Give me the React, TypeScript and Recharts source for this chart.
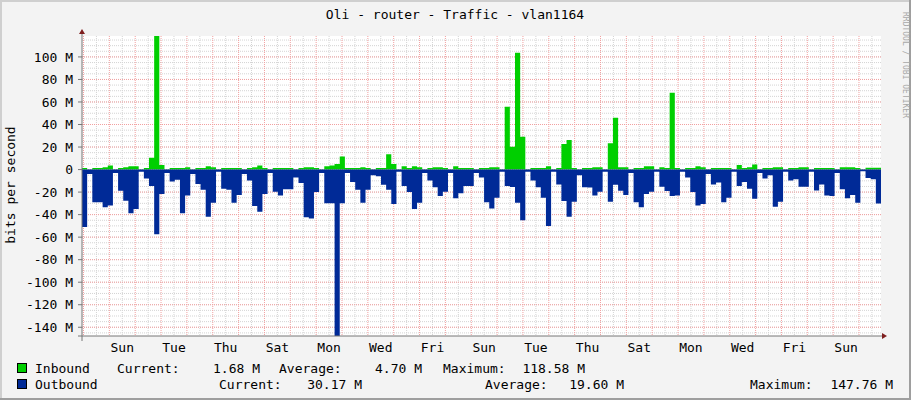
import { ComposedChart, Area, XAxis, YAxis, CartesianGrid, ReferenceDot } from 'recharts';

// traffic per ~4.8h slot, in Mbit/s
const inbound = [
  1.5, 0.3, 1.5, 1.5, 2, 3.5, 0.3, 1.5, 2, 3, 3, 0.3, 1.5, 10.6, 118.58, 4, 0.3, 1.5, 1.5, 1.5,
  2, 0.3, 1.5, 1.5, 3, 2, 0.3, 1.5, 1.5, 1.5, 1.5, 0.3, 1.5, 2, 3.5, 1.5, 0.3, 1.5, 1.5, 1.5,
  1.5, 0.3, 1.5, 2, 2, 1.5, 0.3, 3, 3.5, 5, 11.5, 1.5, 1.5, 1.5, 2, 1.5, 0.3, 1.5, 1.5, 13.5,
  5, 0.3, 3, 1.5, 3, 2, 0.3, 1.5, 2, 2, 1.5, 0.3, 3, 1.5, 1.5, 1.5, 0.3, 1.5, 1.5, 2,
  2, 0.3, 55.8, 20.3, 103.8, 29.2, 0.3, 1.5, 1.5, 1.5, 3, 0.3, 1.5, 22.7, 26.3, 1.5, 0.3, 1.5, 1.5, 2,
  2, 0.3, 23.4, 46, 2, 2, 0.3, 1.5, 1.5, 3, 3, 0.3, 2, 1.5, 68.3, 1.5, 0.3, 1.5, 1.5, 3,
  2, 0.3, 1.5, 1.5, 1.5, 1.5, 0.3, 4, 1.5, 2, 4.5, 0.3, 1.5, 1.5, 2, 2, 0.3, 1.5, 1.5, 2,
  2, 0.3, 1.5, 1.5, 1.5, 1.5, 0.3, 2, 2, 2, 1.5, 0.3, 1.7, 1.7, 1.68,
];
const outbound = [
  51, 4, 29, 29, 33.5, 32, 3, 18.7, 27.6, 38.8, 35, 2, 8, 14.5, 57.5, 21.7, 3, 10.7, 9, 38.8,
  23, 4, 12.8, 18, 42, 29.5, 2, 17, 18, 29.5, 22.5, 4, 9.8, 32.4, 37.4, 21.7, 3, 19.6, 23, 17.5,
  17.5, 7, 12, 42.4, 43.5, 20, 3, 30, 30, 147.76, 30, 3, 11, 18, 29.5, 18, 5, 6, 13.5, 18,
  30.5, 2, 14.5, 20, 35, 29.5, 3, 9.6, 15.6, 23.5, 19.6, 3, 25.5, 21, 14.5, 14.5, 3, 7, 29, 34.5,
  25, 2, 14.5, 15.5, 29.5, 45, 2, 9.6, 15.6, 25, 50, 2, 13.2, 28, 42, 28.5, 5, 15.6, 16, 23,
  19.6, 2, 28.5, 13.5, 18.7, 22.5, 3, 29, 33.5, 21.7, 19.6, 2, 15.3, 19, 23.4, 23, 2, 7, 20, 32,
  30.5, 4, 13.2, 11.5, 29, 25, 2, 14.5, 11, 17, 26, 3, 8, 5, 33, 28.5, 2, 9.6, 8.5, 15.3,
  15.3, 2, 18.5, 13.2, 23, 23.4, 3, 17.5, 25.5, 22.5, 29.5, 1.5, 7.5, 8.5, 30.17,
];

const dayNames = ['Sat', 'Sun', 'Mon', 'Tue', 'Wed', 'Thu', 'Fri'];
const yTicks = [-140, -120, -100, -80, -60, -40, -20, 0, 20, 40, 60, 80, 100];
const legendIn = { current: '1.68 M', average: '4.70 M', maximum: '118.58 M' };
const legendOut = { current: '30.17 M', average: '19.60 M', maximum: '147.76 M' };

const SLOT_HOURS = 4.786;
const START = -1.4; // hours before first midnight
const END = START + inbound.length * SLOT_HOURS;
const Y_MAX = 118.58;
const Y_MIN = -147.76;
const DAYS = 31;

const IN_COLOR = '#00CF00';
const OUT_COLOR = '#002A97';
const MONO = 'DejaVu Sans Mono';

const rows = inbound.map((v, i) => ({ t: START + i * SLOT_HOURS, inb: v, outb: -outbound[i] }));
rows.push({ t: END, inb: inbound[inbound.length - 1], outb: -outbound[outbound.length - 1] });

const midnights: number[] = [];
const noons: number[] = [];
const labelNoons: number[] = [];
for (let k = 0; k < DAYS; k++) {
  midnights.push(k * 24);
  noons.push(k * 24 + 12);
  if (k % 2 === 1) labelNoons.push(k * 24 + 12);
}
const yMinor: number[] = [];
for (let v = -145; v <= 115; v += 5) yMinor.push(v);

const UpArrow = (p: any) => (
  <g>
    <line x1={p.cx} y1={p.cy} x2={p.cx} y2={p.cy - 4} stroke="#777" />
    <polygon points={`${p.cx - 3},${p.cy - 2} ${p.cx + 3},${p.cy - 2} ${p.cx},${p.cy - 7}`} fill="#7f1f1f" />
  </g>
);
const RightArrow = (p: any) => (
  <g>
    <line x1={p.cx} y1={p.cy} x2={p.cx + 4} y2={p.cy} stroke="#777" />
    <polygon points={`${p.cx + 1},${p.cy - 3} ${p.cx + 1},${p.cy + 3} ${p.cx + 6},${p.cy}`} fill="#7f1f1f" />
  </g>
);
const Corner = (p: any) => (
  <g stroke="#777">
    <line x1={p.cx} y1={p.cy} x2={p.cx} y2={p.cy + 5} />
    <line x1={p.cx - 4} y1={p.cy} x2={p.cx} y2={p.cy} />
  </g>
);

export default function App() {
  const txt = { fontFamily: MONO, fontSize: 13, fill: '#000' };
  return (
    <div style={{ position: 'fixed', left: 0, top: 0, width: 911, height: 400, background: '#f3f3f3' }}>
      <ComposedChart
        width={911}
        height={400}
        data={rows}
        margin={{ top: 36, right: 30, bottom: 44, left: 6 }}
      >
        <CartesianGrid
          fill="#ffffff"
          stroke="#d4d4d4"
          strokeDasharray="1 1"
          horizontalValues={yMinor}
          verticalValues={noons}
        />
        <CartesianGrid
          stroke="#f2a0a0"
          strokeDasharray="1 1"
          horizontalValues={yTicks}
          verticalValues={midnights}
        />
        <XAxis
          type="number"
          dataKey="t"
          domain={[START, END]}
          ticks={labelNoons}
          interval={0}
          tickFormatter={(v: number) => dayNames[Math.round((v - 12) / 24) % 7]}
          tick={txt}
          tickLine={false}
          tickSize={3}
          tickMargin={4}
          axisLine={{ stroke: '#777' }}
          height={20}
          allowDataOverflow
        />
        <YAxis
          type="number"
          domain={[Y_MIN, Y_MAX]}
          ticks={yTicks}
          interval={0}
          tickFormatter={(v: number) => (v === 0 ? '0' : `${v} M`)}
          tick={txt}
          tickSize={4}
          tickMargin={5}
          tickLine={{ stroke: '#777' }}
          axisLine={{ stroke: '#777' }}
          width={76}
          allowDataOverflow
        />
        <Area
          type="stepAfter"
          dataKey="inb"
          baseValue={0}
          fill={IN_COLOR}
          fillOpacity={1}
          stroke="none"
          isAnimationActive={false}
        />
        <Area
          type="stepAfter"
          dataKey="outb"
          baseValue={0}
          fill={OUT_COLOR}
          fillOpacity={1}
          stroke="none"
          isAnimationActive={false}
        />
        <ReferenceDot x={START} y={Y_MAX} r={0} shape={UpArrow} ifOverflow="visible" />
        <ReferenceDot x={END} y={Y_MIN} r={0} shape={RightArrow} ifOverflow="visible" />
        <ReferenceDot x={START} y={Y_MIN} r={0} shape={Corner} ifOverflow="visible" />
      </ComposedChart>

      <svg
        width={911}
        height={400}
        style={{ position: 'absolute', left: 0, top: 0, pointerEvents: 'none' }}
      >
        <rect x={0} y={0} width={911} height={2} fill="#cfcfcf" />
        <rect x={0} y={0} width={2} height={400} fill="#cfcfcf" />
        <rect x={0} y={398} width={911} height={2} fill="#9e9e9e" />
        <rect x={909} y={0} width={2} height={400} fill="#9e9e9e" />

        <text x={455} y={19} textAnchor="middle" {...txt}>
          Oli - router - Traffic - vlan1164
        </text>
        <text x={15} y={185} textAnchor="middle" transform="rotate(-90 15 185)" {...txt}>
          bits per second
        </text>
        <text
          x={903}
          y={65}
          textAnchor="middle"
          transform="rotate(90 903 65)"
          fontFamily={MONO}
          fontSize={8}
          fill="#a8a8a8"
        >
          RRDTOOL / TOBI OETIKER
        </text>

        <rect x={17.5} y={363.5} width={9} height={9} fill={IN_COLOR} stroke="#000" />
        <text x={35} y={373} {...txt}>Inbound</text>
        <text x={117} y={373} {...txt}>Current:</text>
        <text x={260} y={373} textAnchor="end" {...txt}>{legendIn.current}</text>
        <text x={279} y={373} {...txt}>Average:</text>
        <text x={422} y={373} textAnchor="end" {...txt}>{legendIn.average}</text>
        <text x={443} y={373} {...txt}>Maximum:</text>
        <text x={585} y={373} textAnchor="end" {...txt}>{legendIn.maximum}</text>

        <rect x={17.5} y={379.5} width={9} height={9} fill={OUT_COLOR} stroke="#000" />
        <text x={35} y={389} {...txt}>Outbound</text>
        <text x={219} y={389} {...txt}>Current:</text>
        <text x={362} y={389} textAnchor="end" {...txt}>{legendOut.current}</text>
        <text x={485} y={389} {...txt}>Average:</text>
        <text x={624} y={389} textAnchor="end" {...txt}>{legendOut.average}</text>
        <text x={750} y={389} {...txt}>Maximum:</text>
        <text x={893} y={389} textAnchor="end" {...txt}>{legendOut.maximum}</text>
      </svg>
    </div>
  );
}
